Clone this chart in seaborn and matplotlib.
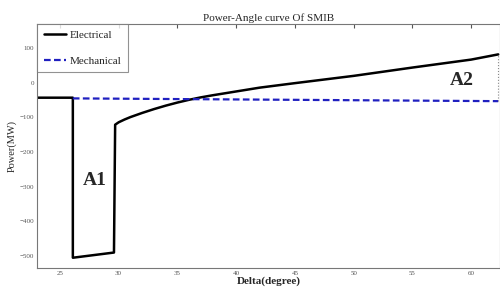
import numpy as np
import pandas as pd
import matplotlib
matplotlib.use("Agg")
import matplotlib.pyplot as plt
import seaborn as sns

# values
elec_delta = [23.0, 26.1, 26.1, 29.6, 29.7, 30, 30.5, 31, 32, 33, 34, 35, 36, 37, 38, 40, 42, 45, 50, 55, 60, 62.3]
elec_power = [-43, -43, -505, -490, -121, -114, -106, -99, -87, -76, -66, -57, -49, -42, -36, -25, -14, -1, 20, 44, 67, 82]
mech_delta = [26.1, 62.3]
mech_power = [-45, -53]
x_ticks = [25, 30, 35, 40, 45, 50, 55, 60]
y_ticks = [100, 0, -100, -200, -300, -400, -500]

sns.set_style("white")
plt.rcParams['font.family'] = ['Liberation Serif', 'DejaVu Serif']

elec_df = pd.DataFrame({'Delta': elec_delta, 'Power': elec_power})
mech_df = pd.DataFrame({'Delta': mech_delta, 'Power': mech_power})

fig = plt.figure(figsize=(5, 2.88), dpi=100)
ax = fig.add_axes([0.074, 0.069, 0.926, 0.848])

sns.lineplot(data=elec_df, x='Delta', y='Power', sort=False, estimator=None,
             errorbar=None, color='black', linewidth=1.8, label='Electrical', ax=ax)
sns.lineplot(data=mech_df, x='Delta', y='Power', sort=False, estimator=None,
             errorbar=None, color='#2020c0', linewidth=1.6, label='Mechanical', ax=ax)
ax.lines[1].set_linestyle((0, (3, 1.5)))
ax.plot([elec_delta[-1], elec_delta[-1]], [mech_power[-1], elec_power[-1]],
        color='#888888', linestyle=':', linewidth=0.8)

ax.set_xlim(23.05, 62.45)
ax.set_ylim(-535, 170)
ax.set_xticks(x_ticks)
ax.set_yticks(y_ticks)
ax.tick_params(direction='in', length=3, labelsize=5, colors='#555555',
               top=True, labelcolor='#555555', pad=2)
for s in ax.spines.values():
    s.set_color('#777777')
    s.set_linewidth(0.8)

ax.set_title("Power-Angle curve Of SMIB", fontsize=8, pad=2)
ax.set_xlabel("Delta(degree)", fontsize=8, fontweight='bold', labelpad=0)
ax.set_ylabel("Power(MW)", fontsize=7.5, labelpad=2)

ax.text(28.0, -282, "A1", fontsize=14, fontweight='bold', ha='center', va='center')
ax.text(59.2, 6, "A2", fontsize=14, fontweight='bold', ha='center', va='center')

leg = ax.legend(loc='upper left', fontsize=8, frameon=True, fancybox=False,
                borderaxespad=0, handlelength=2.0, labelspacing=1.4,
                borderpad=0.6, handletextpad=0.3)
leg.get_frame().set_edgecolor('#777777')
leg.get_frame().set_linewidth(0.8)
leg.get_lines()[1].set_linestyle((0, (3, 1.5)))

fig.savefig("out.png", dpi=100)
